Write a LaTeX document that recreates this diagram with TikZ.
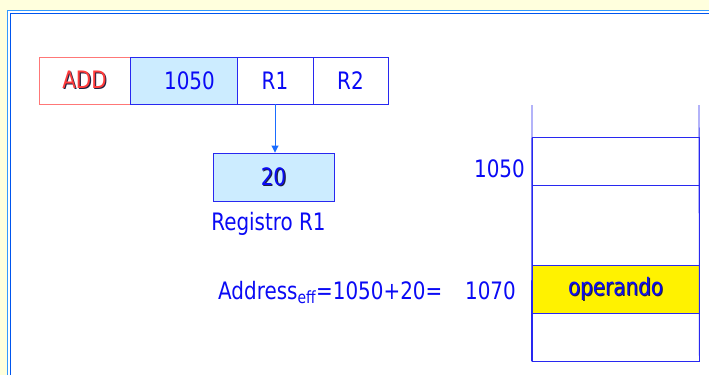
\documentclass[tikz,border=0pt]{standalone}
\usepackage{fontspec}
\setmainfont{DejaVu Sans}[FakeStretch=0.83]
\usetikzlibrary{arrows.meta}
\definecolor{bgyel}{HTML}{FFFFDD}
\definecolor{frameA}{HTML}{3399FF}
\definecolor{frameB}{HTML}{0055EE}
\definecolor{txtblue}{HTML}{0A0AF5}
\definecolor{lineblue}{HTML}{2828F0}
\definecolor{cellfill}{HTML}{CCECFF}
\definecolor{arrblue}{HTML}{1A6CFF}
\definecolor{addred}{HTML}{FF3B3B}
\definecolor{addline}{HTML}{FF7777}
\definecolor{shadowc}{HTML}{202040}
\newcommand{\shtext}[2]{\makebox[0pt][l]{\hspace{1.1pt}\raisebox{-1.1pt}{\color{shadowc}#2}}{\color{#1}#2}}
\tikzset{
  big/.style={font=\fontsize{24}{29}\selectfont},
  cell/.style={big, draw=lineblue, line width=0.9pt, minimum height=47pt, inner sep=0pt, text=txtblue},
  memcell/.style={draw=lineblue, line width=0.9pt, minimum width=167pt, inner sep=0pt},
  lbl/.style={big, text=txtblue, inner sep=0pt},
}
\begin{document}
\begin{tikzpicture}[x=1pt,y=-1pt]
\useasboundingbox (0,0) rectangle (709,375);
\fill[bgyel] (0,0) rectangle (709,375);
\fill[white] (7.5,10.5) rectangle (709,375);
\draw[frameA, line width=1.4pt] (7.5,375) -- (7.5,10.5) -- (709,10.5);
\draw[frameB, line width=1.4pt] (10.7,375) -- (10.7,13.7) -- (709,13.7);
% instruction
\node[cell, draw=addline, minimum width=91pt] (add) at (84.5,80.5) {\shtext{addred}{ADD}};
\node[cell, fill=cellfill, minimum width=107pt] (disp) at (183.5,80.5) {\hspace{12pt}1050};
\node[cell, minimum width=76pt] (r1) at (275,80.5) {R1};
\node[cell, minimum width=75pt] (r2) at (350.5,80.5) {R2};
% register
\node[cell, fill=cellfill, minimum width=121pt, minimum height=48pt] (reg) at (273.5,177) {\shtext{txtblue}{20}};
\draw[arrblue, line width=0.9pt, -{Triangle[length=7pt,width=7pt]}] (r1.south) -- (r1.south |- reg.north);
\node[lbl, anchor=base] (regl) at (268.5,230) {Registro R1};
% memory
\coordinate (mtl) at (532,105);
\coordinate (mtr) at (699,105);
\node[memcell, minimum height=48pt] (m1) at (615.5,161) {};
\node[memcell, minimum height=80pt] (m2) at (615.5,225) {};
\node[memcell, fill=yellow, minimum height=48pt] (m3) at (615.5,289) {\shtext{txtblue}{\fontsize{24}{29}\selectfont operando}};
\node[memcell, minimum height=48pt] (m4) at (615.5,337) {};
\draw[lineblue, line width=0.9pt] (mtl) -- (m4.south west);
\draw[lineblue, line width=0.9pt] (mtr) -- (m4.south east);
% labels
\node[lbl, anchor=base east] (a1050) at (525,177) {1050};
\node[lbl, anchor=base east] (a1070) at (516,299) {1070};
\node[lbl, anchor=base west] (addr) at (218,299) {Address\textsubscript{eff}=1050+20=};
\end{tikzpicture}
\end{document}
